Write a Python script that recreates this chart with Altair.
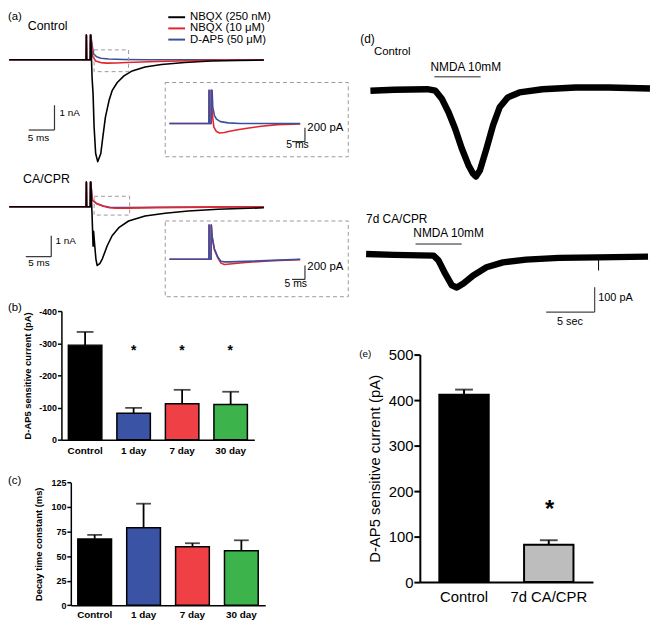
import altair as alt
import pandas as pd

M = 8  # page margin: image px -> chart px

# ======================= DATA =======================
SERIES = ["NBQX (250 nM)", "NBQX (10 μM)", "D-AP5 (50 μM)"]
TRACE_COLORS = ["#000000", "#e5242b", "#3b4f9f"]

# (a) Control evoked currents: time (ms), current (pA)
ctrl_black_t = [1.2, 16.15, 16.2, 16.25, 16.95, 17.0, 17.05, 17.3, 17.5, 17.7, 18.0, 18.4, 19.0,
                19.4, 19.9, 20.6, 21.2, 22.2, 23.5, 25.1, 27.6, 30.8, 35.3, 40.4, 45.6, 50.7]
ctrl_black_i = [0, 0, 1000, 0, 0, 1000, 1000, -700, -1390, -2720, -3790, -4120, -3790,
                -3120, -2320, -1650, -1250, -920, -650, -450, -290, -190, -110, -50, -30, -12]
ctrl_red_t = [1.2, 16.15, 16.2, 16.25, 16.95, 17.0, 17.05, 17.4, 18.0, 19.0, 20.2, 22.0, 24.0,
              27.0, 30.0, 36.0, 42.0, 50.7]
ctrl_red_i = [0, 0, 1000, 0, 0, 1000, 1000, 150, -50, -115, -135, -130, -112,
              -90, -70, -38, -15, -5]
ctrl_blue_t = [1.2, 16.15, 16.2, 16.25, 16.95, 17.0, 17.05, 17.35, 17.6, 18.2, 19.0, 20.5, 23.5,
               28.0, 50.7]
ctrl_blue_i = [0, 0, 1000, 0, 0, 1000, 1000, 550, 240, 120, 65, 28, 10, 0, 0]

# (a) CA/CPR evoked currents
cpr_black_t = [1.2, 16.15, 16.2, 16.25, 16.95, 17.0, 17.05, 17.3, 17.5, 17.6, 17.8, 18.05, 18.3,
               18.8, 19.3, 20.25, 21.2, 22.5, 24.4, 27.6, 31.5, 36.0, 41.7, 50.7]
cpr_black_i = [0, 0, 1180, 0, 0, 1180, 1180, -380, -1900, -1190, -1810, -2520, -2830,
               -2740, -2510, -1880, -1400, -1010, -690, -450, -320, -210, -120, -55]
cpr_rb_t = [1.2, 16.15, 16.2, 16.25, 16.95, 17.0, 17.05, 17.35, 18.2, 19.5, 20.7, 22.0, 24.0,
            30.0, 40.0, 50.7]
cpr_red_i = [0, 0, 1180, 0, 0, 1180, 1180, 320, 140, 20, -55, -75, -68, -45, -20, -5]
cpr_blue_i = [0, 0, 1180, 0, 0, 1180, 1180, 330, 153, 34, -29, -37, -37, -30, -15, 0]

# (b) D-AP5 sensitive current
b_groups = ["Control", "1 day", "7 day", "30 day"]
b_mean = [-294, -82, -112, -109]
b_err = [-335, -99, -155, -149]
b_star_groups = ["1 day", "7 day", "30 day"]
b_star_y = [-287, -287, -287]
BAR_COLORS = ["#000000", "#3a53a4", "#ef4045", "#3cb44b"]

# (c) Decay time constant
c_mean = [67.5, 78.9, 59.5, 55.4]
c_err = [71.6, 103.4, 63.1, 66.1]

# (d) NMDA currents: time (s), current (pA)
d_ctrl_t = [0.44, 2.87, 6.26, 7.10, 7.78, 8.45, 9.13, 9.81, 10.48, 10.95, 11.26, 11.66, 12.34,
            13.01, 13.69, 14.53, 15.72, 18.08, 21.47, 24.85, 29.1]
d_ctrl_i = [-5, -1, 1, -5, -39, -92, -159, -239, -305, -340, -352, -328, -239,
            -145, -72, -32, -12, 1, 8, 8, 4]
d_cpr_t = [0.0, 2.87, 6.93, 7.43, 8.11, 8.79, 9.30, 9.97, 10.98, 12.34, 14.03, 16.40, 19.78,
           23.73, 28.9]
d_cpr_i = [7, 3, 0, -20, -73, -120, -129, -113, -80, -47, -27, -16, -9, -7, -4]
d_cpr_artifact_t = [23.83]
d_cpr_artifact_i = [-60]

# (e) D-AP5 sensitive current
e_groups = ["Control", "7d CA/CPR"]
e_mean = [412, 82]
e_err = [423, 92]
e_star_groups = ["7d CA/CPR"]
e_star_y = [174]
E_COLORS = ["#000000", "#bdbdbd"]

FONT = "Liberation Sans"


# ======================= HELPERS =======================
def S(d0, d1, p0, p1, **kw):
    """linear scale: domain value d0 -> image px p0, d1 -> p1"""
    return alt.Scale(domain=[d0, d1], range=[p0 - M, p1 - M], nice=False, zero=False, **kw)


def line(t, v, xs, ys, color, w=1.6):
    return alt.Chart(pd.DataFrame({"t": t, "v": v})).mark_line(
        color=color, strokeWidth=w, strokeJoin="round").encode(
        x=alt.X("t:Q", scale=xs, axis=None), y=alt.Y("v:Q", scale=ys, axis=None))


def rules(rows, xs, ys, color="#333333", w=1.2):
    df = pd.DataFrame(rows, columns=["x", "x2", "y", "y2"])
    return alt.Chart(df).mark_rule(color=color, strokeWidth=w).encode(
        x=alt.X("x:Q", scale=xs, axis=None), x2="x2:Q",
        y=alt.Y("y:Q", scale=ys, axis=None), y2="y2:Q")


def box(x0, x1, y0, y1, xs, ys):
    df = pd.DataFrame({"x": [x0], "x2": [x1], "y": [y0], "y2": [y1]})
    return alt.Chart(df).mark_rect(fillOpacity=0, stroke="#9a9a9a", strokeWidth=1,
                                   strokeDash=[4, 3]).encode(
        x=alt.X("x:Q", scale=xs, axis=None), x2="x2:Q",
        y=alt.Y("y:Q", scale=ys, axis=None), y2="y2:Q")


def texts(rows, xs, ys, size, align="left", weight="normal"):
    df = pd.DataFrame(rows, columns=["x", "y", "label"])
    return alt.Chart(df).mark_text(align=align, baseline="middle", fontSize=size,
                                   fontWeight=weight, color="black").encode(
        x=alt.X("x:Q", scale=xs, axis=None), y=alt.Y("y:Q", scale=ys, axis=None),
        text="label:N")


def label(txt, x, y, size):
    return alt.Chart(pd.DataFrame({"label": [txt]})).mark_text(
        align="left", baseline="middle", fontSize=size, color="black").encode(
        x=alt.value(x - M), y=alt.value(y - M), text="label:N")


def bar_panel(groups, means, errs, fills, xr, pi, po, ys, yaxis, xaxis, cap, cap_w, bar_w,
              star_groups, star_vals, star_size, star_dy):
    xs = alt.Scale(domain=groups, range=[xr[0] - M, xr[1] - M], paddingInner=pi, paddingOuter=po)
    df = pd.DataFrame({"g": groups, "m": means, "e": errs, "f": fills})

    def X(axis=None):
        return alt.X("g:N", scale=xs, axis=axis, sort=None)

    err = alt.Chart(df).mark_rule(color="black", strokeWidth=cap_w).encode(
        x=X(), y=alt.Y("m:Q", scale=ys, axis=None), y2="e:Q")
    capm = alt.Chart(df).mark_tick(color="black", thickness=cap_w, size=cap).encode(
        x=X(), y=alt.Y("e:Q", scale=ys, axis=None))
    bars = alt.Chart(df).mark_bar(stroke="black", strokeWidth=bar_w).encode(
        x=X(xaxis), y=alt.Y("m:Q", scale=ys, axis=yaxis), y2=alt.Y2Datum(0),
        fill=alt.Fill("f:N", scale=None))
    sd = pd.DataFrame({"g": star_groups, "s": star_vals})
    stars = alt.Chart(sd).mark_text(text="*", fontSize=star_size, fontWeight="bold",
                                    dy=star_dy, color="black").encode(
        x=X(), y=alt.Y("s:Q", scale=ys, axis=None))
    return [err, capm, bars, stars]


# ======================= SCALES =======================
A_X = S(0, 50, 3, 263)
A_CTRL_Y = S(-4500, 1500, 169.5, 19.5)
A_CPR_Y = S(-3000, 1500, 268.5, 174)
IN_X = S(0, 50, 168, 301.5)
IN_CTRL_Y = S(-500, 480, 156.5, 87.9, clamp=True)
IN_CTRL_YA = S(-600, 600, 163.5, 79.5)
IN_CPR_Y = S(-500, 496, 293.7, 224.0, clamp=True)
IN_CPR_YA = S(-600, 600, 300.7, 216.7)
D_X = S(0, 30, 370, 665.8)
D_CTRL_Y = S(-400, 150, 187, 49.5)
D_CPR_Y = S(-300, 150, 330, 217.5)
B_Y = S(0, -400, 441, 311)
C_Y = S(0, 125, 608.3, 484.3)
E_Y = S(0, 500, 585, 355)

H = 611
layers = []

# ---------------- (a) ----------------
layers += [
    line(ctrl_blue_t, ctrl_blue_i, A_X, A_CTRL_Y, TRACE_COLORS[2]),
    line(ctrl_red_t, ctrl_red_i, A_X, A_CTRL_Y, TRACE_COLORS[1]),
    line(ctrl_black_t, ctrl_black_i, A_X, A_CTRL_Y, TRACE_COLORS[0]),
    box(17.7, 24.4, 400, -480, A_X, A_CTRL_Y),
    rules([(5, 10, -2840, -2840), (10, 10, -2840, -1840)], A_X, A_CTRL_Y),
    texts([(10.96, -2160, "1 nA")], A_X, A_CTRL_Y, 10),
    texts([(6.9, -3160, "5 ms")], A_X, A_CTRL_Y, 10, align="center"),
    texts([(4.8, 1360, "Control")], A_X, A_CTRL_Y, 12.5),
    # control inset
    box(-0.4, 68.9, 593, -479, IN_X, IN_CTRL_YA),
    line(ctrl_red_t, ctrl_red_i, IN_X, IN_CTRL_Y, TRACE_COLORS[1]),
    line(ctrl_blue_t, ctrl_blue_i, IN_X, IN_CTRL_Y, TRACE_COLORS[2]),
    rules([(47.6, 52.5, -260, -260), (52.5, 52.5, -260, -60)], IN_X, IN_CTRL_YA),
    texts([(53.4, -69, "200 pA")], IN_X, IN_CTRL_YA, 11.5),
    texts([(49.7, -307, "5 ms")], IN_X, IN_CTRL_YA, 10.5, align="center"),
    # CA/CPR main
    line(cpr_rb_t, cpr_blue_i, A_X, A_CPR_Y, TRACE_COLORS[2]),
    line(cpr_rb_t, cpr_red_i, A_X, A_CPR_Y, TRACE_COLORS[1]),
    line(cpr_black_t, cpr_black_i, A_X, A_CPR_Y, TRACE_COLORS[0]),
    box(17.7, 24.6, 500, -405, A_X, A_CPR_Y),
    rules([(4.42, 9.37, -2405, -2405), (9.37, 9.37, -2405, -1405)], A_X, A_CPR_Y),
    texts([(10.2, -1667, "1 nA")], A_X, A_CPR_Y, 10),
    texts([(7.0, -2714, "5 ms")], A_X, A_CPR_Y, 10, align="center"),
    texts([(3.9, 1333, "CA/CPR")], A_X, A_CPR_Y, 12.5),
    # CA/CPR inset
    box(-0.4, 68.9, 553, -540, IN_X, IN_CPR_YA),
    line(cpr_rb_t, cpr_red_i, IN_X, IN_CPR_Y, TRACE_COLORS[1]),
    line(cpr_rb_t, cpr_blue_i, IN_X, IN_CPR_Y, TRACE_COLORS[2]),
    rules([(47.6, 52.5, -290, -290), (52.5, 52.5, -290, -90)], IN_X, IN_CPR_YA),
    texts([(53.4, -109, "200 pA")], IN_X, IN_CPR_YA, 11.5),
    texts([(49.0, -351, "5 ms")], IN_X, IN_CPR_YA, 10.5, align="center"),
]

# legend
leg_df = pd.DataFrame({"s": SERIES})
leg_y = alt.Scale(type="point", domain=SERIES, range=[14 - M, 36.6 - M], padding=0)
layers += [
    alt.Chart(leg_df).mark_rule(strokeWidth=2).encode(
        x=alt.value(170 - M), x2=alt.value(187 - M),
        y=alt.Y("s:N", scale=leg_y, axis=None),
        color=alt.Color("s:N", scale=alt.Scale(domain=SERIES, range=TRACE_COLORS), legend=None)),
    alt.Chart(leg_df).mark_text(align="left", baseline="middle", fontSize=11.5, color="black").encode(
        x=alt.value(192 - M), y=alt.Y("s:N", scale=leg_y, axis=None), text="s:N"),
]

# ---------------- (b) ----------------
b_yaxis = alt.Axis(orient="left", offset=-(62 - M), values=[0, -100, -200, -300, -400],
                   labelExpr="datum.value == 0 ? '0' : '-' + abs(datum.value)",
                   title="D-AP5 sensitive current (pA)", titleFontSize=9.5, titleFontWeight="bold",
                   labelFontSize=9, labelFontWeight="bold", tickSize=4, labelPadding=1,
                   titlePadding=6, domainWidth=1.5, tickWidth=1.5)
b_xaxis = alt.Axis(orient="bottom", offset=(441 - M) - H, ticks=False, tickSize=0, labelPadding=6,
                   labelFontSize=10, labelFontWeight="bold", labelAngle=0, title=None, domainWidth=1.5)
layers += bar_panel(b_groups, b_mean, b_err, BAR_COLORS, (62, 257), 0.31, 0.143, B_Y,
                    b_yaxis, b_xaxis, 17, 1.8, 1.5, b_star_groups, b_star_y, 14, 4)

# ---------------- (c) ----------------
c_yaxis = alt.Axis(orient="left", offset=-(71.5 - M), values=[0, 25, 50, 75, 100, 125],
                   title="Decay time constant  (ms)", titleFontSize=9.5, titleFontWeight="bold",
                   labelFontSize=9, labelFontWeight="bold", tickSize=4, labelPadding=1,
                   titlePadding=8, domainWidth=1.5, tickWidth=1.5)
c_xaxis = alt.Axis(orient="bottom", offset=(608.3 - M) - H, ticks=False, tickSize=0, labelPadding=4,
                   labelFontSize=10, labelFontWeight="bold", labelAngle=0, title=None, domainWidth=1.5)
layers += bar_panel(b_groups, c_mean, c_err, BAR_COLORS, (71.5, 268), 0.31, 0.143, C_Y,
                    c_yaxis, c_xaxis, 15, 1.8, 1.5, [], [], 14, 4)

# ---------------- (d) ----------------
layers += [
    line(d_ctrl_t, d_ctrl_i, D_X, D_CTRL_Y, "black", 6.5),
    line(d_cpr_t, d_cpr_i, D_X, D_CPR_Y, "black", 6.5),
    rules([(d_cpr_artifact_t[0], d_cpr_artifact_t[0], -7, d_cpr_artifact_i[0])], D_X, D_CPR_Y,
          "black", 1),
    rules([(7.0, 11.74, 51, 51)], D_X, D_CTRL_Y, "#222222", 1),
    rules([(5.07, 9.8, 47, 47)], D_X, D_CPR_Y, "#222222", 1),
    texts([(6.6, 92, "NMDA 10mM")], D_X, D_CTRL_Y, 12),
    texts([(4.84, 90, "NMDA 10mM")], D_X, D_CPR_Y, 12),
    texts([(0.81, 152, "Control")], D_X, D_CTRL_Y, 11.5),
    texts([(0.0, 148, "7d CA/CPR")], D_X, D_CPR_Y, 12),
    rules([(18.46, 23.43, -228, -228), (23.43, 23.43, -228, -128)], D_X, D_CPR_Y, "#444444", 1.2),
    texts([(23.8, -170, "100 pA")], D_X, D_CPR_Y, 11),
    texts([(20.9, -268, "5 sec")], D_X, D_CPR_Y, 11, align="center"),
]

# ---------------- (e) ----------------
e_yaxis = alt.Axis(orient="left", offset=-(424.3 - M), values=[0, 100, 200, 300, 400, 500],
                   title="D-AP5 sensitive current (pA)", titleFontSize=15, titleFontWeight="normal",
                   labelFontSize=15, tickSize=6, labelPadding=1, titlePadding=6,
                   domainWidth=2, tickWidth=2)
e_xaxis = alt.Axis(orient="bottom", offset=(585 - M) - H, ticks=False, tickSize=0, labelPadding=8,
                   labelFontSize=15, labelAngle=0, title=None, domainWidth=2)
layers += bar_panel(e_groups, e_mean, e_err, E_COLORS, (424.3, 599.3), 0.417, 0.23, E_Y,
                    e_yaxis, e_xaxis, 18, 2, 2, e_star_groups, e_star_y, 24, 7)

# ---------------- panel letters ----------------
layers += [
    label("(a)", 8, 14, 11.5),
    label("(b)", 8, 308, 11.5),
    label("(c)", 8, 482.5, 11.5),
    label("(d)", 364, 36, 12),
    label("(e)", 363, 354, 10),
]

chart = alt.layer(*layers).resolve_scale(x="independent", y="independent").properties(
    width=646, height=H, padding=0
).configure_view(stroke=None).configure_axis(
    grid=False, labelFont=FONT, titleFont=FONT, domainColor="black", tickColor="black",
    labelColor="black", titleColor="black"
).configure_text(font=FONT)

chart.save("out.html", embed_options={"renderer": "svg", "actions": False})
